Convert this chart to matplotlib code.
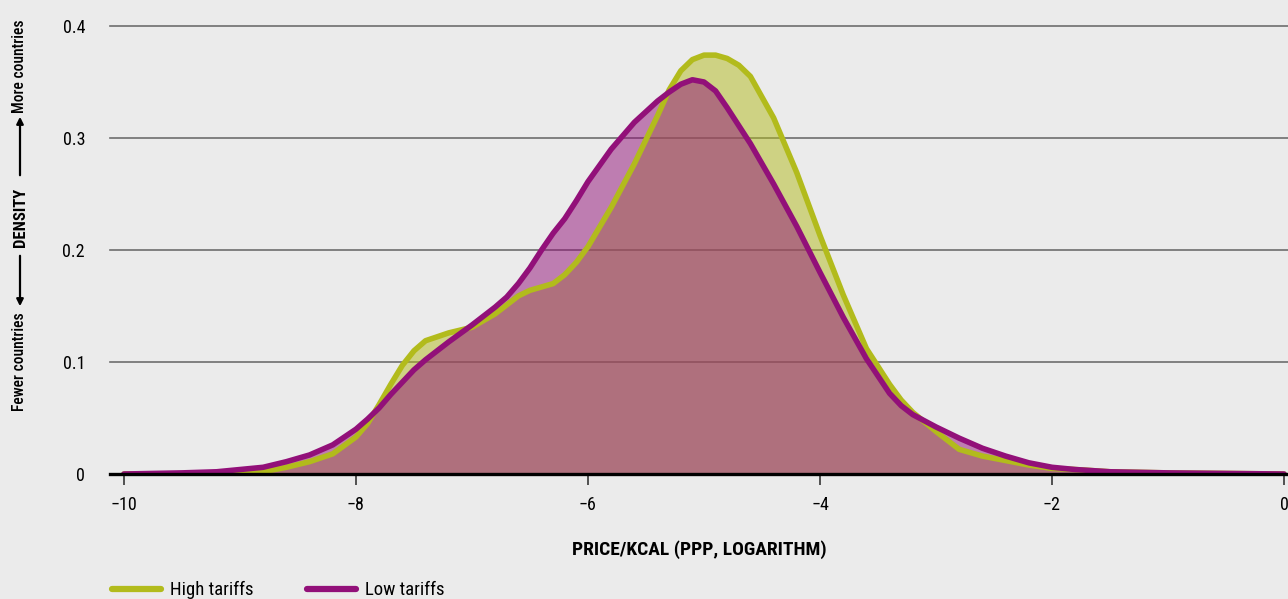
import matplotlib.pyplot as plt
from matplotlib.lines import Line2D
from matplotlib import font_manager

# log price per kcal grid
price = [-10.0, -9.5, -9.2, -9.0, -8.8, -8.6, -8.4, -8.2, -8.0, -7.9, -7.8, -7.7, -7.6,
         -7.5, -7.4, -7.2, -7.0, -6.8, -6.7, -6.6, -6.5, -6.4, -6.3, -6.2, -6.1, -6.0, -5.8, -5.6, -5.4, -5.3, -5.2,
         -5.1, -5.0, -4.9, -4.8, -4.7, -4.6, -4.4, -4.2, -4.0, -3.8, -3.6, -3.4, -3.3, -3.2,
         -3.0, -2.8, -2.6, -2.4, -2.2, -2.0, -1.8, -1.5, -1.0, 0.0]

high_tariffs = [0.000, 0.000, 0.001, 0.001, 0.002, 0.006, 0.011, 0.018, 0.033, 0.045, 0.062, 0.080, 0.097,
                0.110, 0.119, 0.126, 0.131, 0.143, 0.151, 0.159, 0.164, 0.167, 0.170, 0.178, 0.189, 0.203, 0.238, 0.277, 0.320, 0.343, 0.360,
                0.370, 0.374, 0.374, 0.371, 0.365, 0.355, 0.318, 0.269, 0.213, 0.160, 0.112, 0.080, 0.066, 0.055,
                0.038, 0.022, 0.016, 0.012, 0.008, 0.005, 0.004, 0.002, 0.001, 0.000]

low_tariffs = [0.000, 0.001, 0.002, 0.004, 0.006, 0.011, 0.017, 0.026, 0.040, 0.049, 0.059, 0.071, 0.082,
               0.093, 0.102, 0.118, 0.133, 0.149, 0.158, 0.170, 0.184, 0.200, 0.215, 0.228, 0.244, 0.261, 0.290, 0.314, 0.333, 0.341, 0.348,
               0.352, 0.350, 0.342, 0.327, 0.311, 0.295, 0.259, 0.221, 0.180, 0.140, 0.103, 0.072, 0.061, 0.053,
               0.042, 0.032, 0.023, 0.016, 0.010, 0.006, 0.004, 0.002, 0.001, 0.000]

xticks = [-10, -8, -6, -4, -2, 0]
xtick_labels = ['\u221210', '\u22128', '\u22126', '\u22124', '\u22122', '0']
yticks = [0, 0.1, 0.2, 0.3, 0.4]
ytick_labels = ['0', '0.1', '0.2', '0.3', '0.4']

green = '#b2bb1c'
purple = '#921079'
bg = '#ebebeb'

# a condensed sans if one is around
names = {f.name for f in font_manager.fontManager.ttflist}
fam = [n for n in ['Roboto Condensed', 'Liberation Sans Narrow', 'Archivo Narrow',
                   'PT Sans Narrow', 'Roboto'] if n in names][:1] + ['DejaVu Sans']
plt.rcParams['font.family'] = fam

fig = plt.figure(figsize=(12.88, 5.99), dpi=100, facecolor=bg)
ax = fig.add_axes([110 / 1288, 1 - 474 / 599, 1 - 110 / 1288, (474 - 26) / 599])
ax.set_facecolor(bg)

ax.fill_between(price, high_tariffs, color=green, alpha=0.5, lw=0)
ax.plot(price, high_tariffs, color=green, lw=4, solid_capstyle='round', solid_joinstyle='round')
ax.fill_between(price, low_tariffs, color=purple, alpha=0.5, lw=0)
ax.plot(price, low_tariffs, color=purple, lw=4, solid_capstyle='round', solid_joinstyle='round')

ax.set_xlim(-10.12, 0.034)
ax.set_ylim(0, 0.4)
for v in yticks[1:]:
    ax.axhline(v, color='#6e6e6e', lw=1.2, zorder=0, clip_on=False)
ax.axhline(0, color='black', lw=2.4, zorder=5, clip_on=False)

for s in ax.spines.values():
    s.set_visible(False)
ax.set_xticks(xticks)
ax.set_xticklabels(xtick_labels, fontsize=13)
ax.set_yticks(yticks)
ax.set_yticklabels(ytick_labels, fontsize=13)
ax.tick_params(axis='x', length=8, width=1.3, color='#444444', pad=8)
ax.tick_params(axis='y', length=0, pad=18)

ax.set_xlabel('PRICE/KCAL (PPP, LOGARITHM)', fontsize=14, fontweight='bold', labelpad=19)

# vertical axis title with arrows
fig.text(20 / 1288, 1 - 362 / 599, 'Fewer countries', rotation=90, ha='center', va='center',
         fontsize=11.2, fontweight='medium')
fig.text(20 / 1288, 1 - 217 / 599, 'DENSITY', rotation=90, ha='center', va='center', fontsize=12, fontweight='bold')
fig.text(20 / 1288, 1 - 66 / 599, 'More countries', rotation=90, ha='center', va='center',
         fontsize=11.2, fontweight='medium')
ax.annotate('', xy=(20 / 1288, 1 - 309 / 599), xytext=(20 / 1288, 1 - 253 / 599),
            xycoords='figure fraction', arrowprops=dict(arrowstyle='-|>', color='black', lw=1.6))
ax.annotate('', xy=(20 / 1288, 1 - 114 / 599), xytext=(20 / 1288, 1 - 178 / 599),
            xycoords='figure fraction', arrowprops=dict(arrowstyle='-|>', color='black', lw=1.6))

# legend
for x0, col, lab in [(112, green, 'High tariffs'), (307, purple, 'Low tariffs')]:
    fig.add_artist(Line2D([x0 / 1288, (x0 + 49) / 1288], [1 - 589 / 599] * 2, color=col, lw=4.5,
                          solid_capstyle='round'))
    fig.text((x0 + 58) / 1288, 1 - 590 / 599, lab, ha='left', va='center', fontsize=13.5)

fig.savefig('out.png', dpi=100, facecolor=bg)
